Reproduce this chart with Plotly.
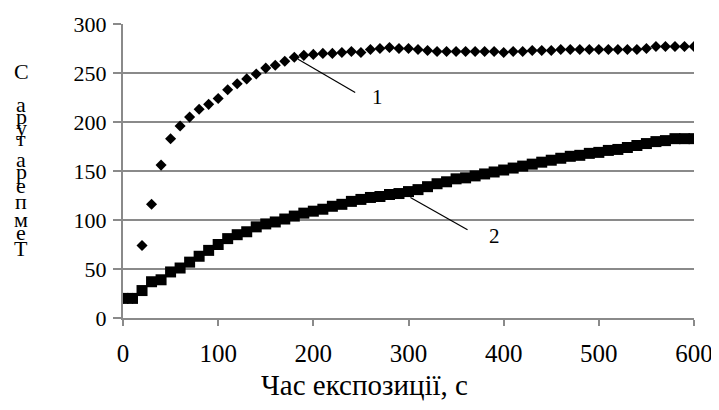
import plotly.graph_objects as go

# ---- data ----
time_s = list(range(0, 601, 10))

series1 = [20, 20, 74, 116, 156, 183, 196, 205, 213, 218, 224, 233, 239, 244, 249,
           255, 258, 262, 266, 268, 269, 270, 270, 271, 272, 271, 274, 275, 276, 275,
           275, 274, 273, 272, 272, 272, 272, 272, 272, 272, 271, 272, 272, 273, 273,
           273, 274, 274, 274, 274, 274, 274, 274, 274, 274, 275, 277, 277, 277, 277, 277]

series2 = [20, 20, 28, 37, 39, 47, 51, 57, 63, 69, 75, 81, 85, 88, 93,
           96, 98, 101, 104, 107, 109, 111, 114, 116, 119, 121, 123, 124, 126, 127,
           129, 131, 134, 137, 139, 142, 143, 145, 147, 149, 151, 153, 155, 157, 159,
           161, 163, 165, 166, 168, 169, 171, 172, 174, 176, 178, 180, 181, 183, 183, 183]

x_ticks = [0, 100, 200, 300, 400, 500, 600]
y_ticks = [0, 50, 100, 150, 200, 250, 300]

x_title = "Час експозиції, с"
y_title = "Температура С"  # drawn as stacked letters, bottom-up
series_labels = ["1", "2"]

FONT = "Liberation Serif"
GRID = "#8a8a8a"

# page has an 8px body margin -> figure is 8px smaller, plot area positioned accordingly
W, H = 711, 402
ML, MR, MT, MB = 115, 25, 16, 92
PW, PH = W - ML - MR, H - MT - MB


def page_to_paper(px, py):
    return (px - 8 - ML) / PW, 1 - (py - 8 - MT) / PH


fig = go.Figure()
fig.add_trace(go.Scatter(x=time_s, y=series1, mode="markers",
                         marker=dict(symbol="diamond", size=8.5, color="black"),
                         showlegend=False, hoverinfo="skip"))
fig.add_trace(go.Scatter(x=time_s, y=series2, mode="markers",
                         marker=dict(symbol="square", size=11, color="black"),
                         showlegend=False, hoverinfo="skip"))

# leader lines + labels
leaders = [((184, 264), (244, 230), (267, 226)),
           ((302, 123), (362, 90), (390, 84))]
for lbl, (p0, p1, pt) in zip(series_labels, leaders):
    fig.add_shape(type="line", xref="x", yref="y", x0=p0[0], y0=p0[1], x1=p1[0], y1=p1[1],
                  line=dict(color="black", width=1.2))
    fig.add_annotation(x=pt[0], y=pt[1], xref="x", yref="y", text=lbl, showarrow=False,
                       font=dict(family=FONT, size=21, color="black"))

# stacked y-axis title letters (top to bottom = reversed string, no space)
letters = [c for c in reversed(y_title) if c != " "]
letter_y_px = [72, 105, 116, 127, 138, 159, 171, 185, 201, 219, 232, 248]  # page px
for ch, ypx in zip(letters, letter_y_px):
    fx, fy = page_to_paper(21, ypx)
    fig.add_annotation(x=fx, y=fy, xref="paper", yref="paper",
                       text=ch, showarrow=False, xanchor="center", yanchor="middle",
                       font=dict(family=FONT, size=22, color="black"))

# x-axis title (placed left of centre as in the reference)
tx, ty = page_to_paper(364, 385)
fig.add_annotation(x=tx, y=ty, xref="paper", yref="paper", text=x_title, showarrow=False,
                   xanchor="center", yanchor="middle",
                   font=dict(family=FONT, size=29, color="black"))

fig.update_layout(
    width=W, height=H,
    margin=dict(l=ML, r=MR, t=MT, b=MB, autoexpand=False),
    paper_bgcolor="white", plot_bgcolor="white",
    font=dict(family=FONT, color="black"),
    xaxis=dict(range=[0, 600], tickvals=x_ticks, ticktext=[str(v) for v in x_ticks],
               showgrid=False, zeroline=False, showline=True, linecolor=GRID, linewidth=2,
               ticks="outside", ticklen=6, tickwidth=2, tickcolor=GRID,
               tickfont=dict(family=FONT, size=25, color="black"), ticklabelstandoff=6),
    yaxis=dict(range=[0, 300], tickvals=y_ticks, ticktext=[str(v) for v in y_ticks],
               showgrid=True, gridcolor=GRID, gridwidth=2, zeroline=False,
               showline=True, linecolor=GRID, linewidth=2,
               ticks="outside", ticklen=8, tickwidth=2, tickcolor=GRID,
               tickfont=dict(family=FONT, size=22, color="black"), ticklabelstandoff=2),
)

fig.write_html("out.html")
